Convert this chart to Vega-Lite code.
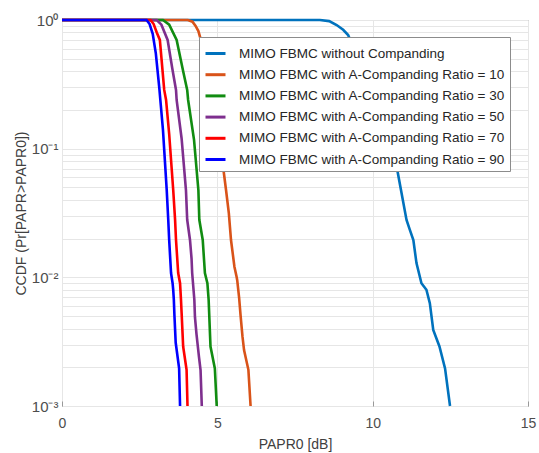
{
  "$schema": "https://vega.github.io/schema/vega-lite/v6.json",
  "width": 466,
  "height": 386,
  "autosize": {"type": "none"},
  "padding": {"left": 62, "top": 20, "right": 11, "bottom": 47},
  "background": "white",
  "config": {
    "font": "Liberation Sans",
    "view": {"stroke": "#8c8c8c", "strokeWidth": 1}
  },
  "data": {
    "values": [
      {"s": "MIMO FBMC without Companding", "x": 0, "y": 1},
      {"s": "MIMO FBMC without Companding", "x": 8.3, "y": 1},
      {"s": "MIMO FBMC without Companding", "x": 8.6, "y": 0.98},
      {"s": "MIMO FBMC without Companding", "x": 8.84, "y": 0.914},
      {"s": "MIMO FBMC without Companding", "x": 9.05, "y": 0.84},
      {"s": "MIMO FBMC without Companding", "x": 9.21, "y": 0.764},
      {"s": "MIMO FBMC without Companding", "x": 9.5, "y": 0.52},
      {"s": "MIMO FBMC without Companding", "x": 9.8, "y": 0.33},
      {"s": "MIMO FBMC without Companding", "x": 10.1, "y": 0.2},
      {"s": "MIMO FBMC without Companding", "x": 10.4, "y": 0.12},
      {"s": "MIMO FBMC without Companding", "x": 10.78, "y": 0.0708},
      {"s": "MIMO FBMC without Companding", "x": 11.09, "y": 0.0279},
      {"s": "MIMO FBMC without Companding", "x": 11.2, "y": 0.0233},
      {"s": "MIMO FBMC without Companding", "x": 11.31, "y": 0.0195},
      {"s": "MIMO FBMC without Companding", "x": 11.41, "y": 0.0129},
      {"s": "MIMO FBMC without Companding", "x": 11.57, "y": 0.009},
      {"s": "MIMO FBMC without Companding", "x": 11.73, "y": 0.008},
      {"s": "MIMO FBMC without Companding", "x": 11.84, "y": 0.0063},
      {"s": "MIMO FBMC without Companding", "x": 11.95, "y": 0.0039},
      {"s": "MIMO FBMC without Companding", "x": 12.15, "y": 0.0029},
      {"s": "MIMO FBMC without Companding", "x": 12.33, "y": 0.00196},
      {"s": "MIMO FBMC without Companding", "x": 12.49, "y": 0.001},

      {"s": "MIMO FBMC with A-Companding Ratio = 10", "x": 0, "y": 1},
      {"s": "MIMO FBMC with A-Companding Ratio = 10", "x": 4.05, "y": 1},
      {"s": "MIMO FBMC with A-Companding Ratio = 10", "x": 4.2, "y": 0.97},
      {"s": "MIMO FBMC with A-Companding Ratio = 10", "x": 4.3, "y": 0.9},
      {"s": "MIMO FBMC with A-Companding Ratio = 10", "x": 4.39, "y": 0.82},
      {"s": "MIMO FBMC with A-Companding Ratio = 10", "x": 4.55, "y": 0.6},
      {"s": "MIMO FBMC with A-Companding Ratio = 10", "x": 4.75, "y": 0.35},
      {"s": "MIMO FBMC with A-Companding Ratio = 10", "x": 4.95, "y": 0.18},
      {"s": "MIMO FBMC with A-Companding Ratio = 10", "x": 5.1, "y": 0.1},
      {"s": "MIMO FBMC with A-Companding Ratio = 10", "x": 5.19, "y": 0.0708},
      {"s": "MIMO FBMC with A-Companding Ratio = 10", "x": 5.28, "y": 0.0477},
      {"s": "MIMO FBMC with A-Companding Ratio = 10", "x": 5.37, "y": 0.0315},
      {"s": "MIMO FBMC with A-Companding Ratio = 10", "x": 5.44, "y": 0.0195},
      {"s": "MIMO FBMC with A-Companding Ratio = 10", "x": 5.55, "y": 0.0121},
      {"s": "MIMO FBMC with A-Companding Ratio = 10", "x": 5.62, "y": 0.0101},
      {"s": "MIMO FBMC with A-Companding Ratio = 10", "x": 5.64, "y": 0.0095},
      {"s": "MIMO FBMC with A-Companding Ratio = 10", "x": 5.7, "y": 0.007},
      {"s": "MIMO FBMC with A-Companding Ratio = 10", "x": 5.75, "y": 0.005},
      {"s": "MIMO FBMC with A-Companding Ratio = 10", "x": 5.81, "y": 0.00346},
      {"s": "MIMO FBMC with A-Companding Ratio = 10", "x": 5.86, "y": 0.00272},
      {"s": "MIMO FBMC with A-Companding Ratio = 10", "x": 6.0, "y": 0.00191},
      {"s": "MIMO FBMC with A-Companding Ratio = 10", "x": 6.07, "y": 0.001},

      {"s": "MIMO FBMC with A-Companding Ratio = 30", "x": 0, "y": 1},
      {"s": "MIMO FBMC with A-Companding Ratio = 30", "x": 3.25, "y": 1},
      {"s": "MIMO FBMC with A-Companding Ratio = 30", "x": 3.45, "y": 0.92},
      {"s": "MIMO FBMC with A-Companding Ratio = 30", "x": 3.69, "y": 0.7},
      {"s": "MIMO FBMC with A-Companding Ratio = 30", "x": 3.9, "y": 0.4},
      {"s": "MIMO FBMC with A-Companding Ratio = 30", "x": 4.03, "y": 0.286},
      {"s": "MIMO FBMC with A-Companding Ratio = 30", "x": 4.06, "y": 0.239},
      {"s": "MIMO FBMC with A-Companding Ratio = 30", "x": 4.25, "y": 0.117},
      {"s": "MIMO FBMC with A-Companding Ratio = 30", "x": 4.39, "y": 0.0477},
      {"s": "MIMO FBMC with A-Companding Ratio = 30", "x": 4.42, "y": 0.028},
      {"s": "MIMO FBMC with A-Companding Ratio = 30", "x": 4.53, "y": 0.0195},
      {"s": "MIMO FBMC with A-Companding Ratio = 30", "x": 4.6, "y": 0.0108},
      {"s": "MIMO FBMC with A-Companding Ratio = 30", "x": 4.68, "y": 0.009},
      {"s": "MIMO FBMC with A-Companding Ratio = 30", "x": 4.72, "y": 0.0067},
      {"s": "MIMO FBMC with A-Companding Ratio = 30", "x": 4.78, "y": 0.0029},
      {"s": "MIMO FBMC with A-Companding Ratio = 30", "x": 4.92, "y": 0.00196},
      {"s": "MIMO FBMC with A-Companding Ratio = 30", "x": 4.98, "y": 0.001},

      {"s": "MIMO FBMC with A-Companding Ratio = 50", "x": 0, "y": 1},
      {"s": "MIMO FBMC with A-Companding Ratio = 50", "x": 3.05, "y": 1},
      {"s": "MIMO FBMC with A-Companding Ratio = 50", "x": 3.2, "y": 0.92},
      {"s": "MIMO FBMC with A-Companding Ratio = 50", "x": 3.4, "y": 0.7},
      {"s": "MIMO FBMC with A-Companding Ratio = 50", "x": 3.55, "y": 0.42},
      {"s": "MIMO FBMC with A-Companding Ratio = 50", "x": 3.67, "y": 0.286},
      {"s": "MIMO FBMC with A-Companding Ratio = 50", "x": 3.69, "y": 0.239},
      {"s": "MIMO FBMC with A-Companding Ratio = 50", "x": 3.85, "y": 0.12},
      {"s": "MIMO FBMC with A-Companding Ratio = 50", "x": 3.99, "y": 0.0477},
      {"s": "MIMO FBMC with A-Companding Ratio = 50", "x": 4.03, "y": 0.028},
      {"s": "MIMO FBMC with A-Companding Ratio = 50", "x": 4.12, "y": 0.0195},
      {"s": "MIMO FBMC with A-Companding Ratio = 50", "x": 4.17, "y": 0.014},
      {"s": "MIMO FBMC with A-Companding Ratio = 50", "x": 4.19, "y": 0.0108},
      {"s": "MIMO FBMC with A-Companding Ratio = 50", "x": 4.26, "y": 0.0067},
      {"s": "MIMO FBMC with A-Companding Ratio = 50", "x": 4.28, "y": 0.0049},
      {"s": "MIMO FBMC with A-Companding Ratio = 50", "x": 4.33, "y": 0.0036},
      {"s": "MIMO FBMC with A-Companding Ratio = 50", "x": 4.41, "y": 0.0024},
      {"s": "MIMO FBMC with A-Companding Ratio = 50", "x": 4.46, "y": 0.0019},
      {"s": "MIMO FBMC with A-Companding Ratio = 50", "x": 4.5, "y": 0.001},

      {"s": "MIMO FBMC with A-Companding Ratio = 70", "x": 0, "y": 1},
      {"s": "MIMO FBMC with A-Companding Ratio = 70", "x": 2.85, "y": 1},
      {"s": "MIMO FBMC with A-Companding Ratio = 70", "x": 2.95, "y": 0.93},
      {"s": "MIMO FBMC with A-Companding Ratio = 70", "x": 3.05, "y": 0.8},
      {"s": "MIMO FBMC with A-Companding Ratio = 70", "x": 3.15, "y": 0.7},
      {"s": "MIMO FBMC with A-Companding Ratio = 70", "x": 3.29, "y": 0.286},
      {"s": "MIMO FBMC with A-Companding Ratio = 70", "x": 3.35, "y": 0.239},
      {"s": "MIMO FBMC with A-Companding Ratio = 70", "x": 3.45, "y": 0.13},
      {"s": "MIMO FBMC with A-Companding Ratio = 70", "x": 3.58, "y": 0.0477},
      {"s": "MIMO FBMC with A-Companding Ratio = 70", "x": 3.64, "y": 0.028},
      {"s": "MIMO FBMC with A-Companding Ratio = 70", "x": 3.67, "y": 0.0195},
      {"s": "MIMO FBMC with A-Companding Ratio = 70", "x": 3.74, "y": 0.0108},
      {"s": "MIMO FBMC with A-Companding Ratio = 70", "x": 3.8, "y": 0.009},
      {"s": "MIMO FBMC with A-Companding Ratio = 70", "x": 3.83, "y": 0.0067},
      {"s": "MIMO FBMC with A-Companding Ratio = 70", "x": 3.85, "y": 0.0053},
      {"s": "MIMO FBMC with A-Companding Ratio = 70", "x": 3.9, "y": 0.0029},
      {"s": "MIMO FBMC with A-Companding Ratio = 70", "x": 4.01, "y": 0.00191},
      {"s": "MIMO FBMC with A-Companding Ratio = 70", "x": 4.04, "y": 0.001},

      {"s": "MIMO FBMC with A-Companding Ratio = 90", "x": 0, "y": 1},
      {"s": "MIMO FBMC with A-Companding Ratio = 90", "x": 2.72, "y": 1},
      {"s": "MIMO FBMC with A-Companding Ratio = 90", "x": 2.82, "y": 0.93},
      {"s": "MIMO FBMC with A-Companding Ratio = 90", "x": 2.92, "y": 0.78},
      {"s": "MIMO FBMC with A-Companding Ratio = 90", "x": 3.02, "y": 0.55},
      {"s": "MIMO FBMC with A-Companding Ratio = 90", "x": 3.13, "y": 0.3},
      {"s": "MIMO FBMC with A-Companding Ratio = 90", "x": 3.25, "y": 0.14},
      {"s": "MIMO FBMC with A-Companding Ratio = 90", "x": 3.37, "y": 0.048},
      {"s": "MIMO FBMC with A-Companding Ratio = 90", "x": 3.42, "y": 0.028},
      {"s": "MIMO FBMC with A-Companding Ratio = 90", "x": 3.45, "y": 0.0195},
      {"s": "MIMO FBMC with A-Companding Ratio = 90", "x": 3.51, "y": 0.0108},
      {"s": "MIMO FBMC with A-Companding Ratio = 90", "x": 3.56, "y": 0.009},
      {"s": "MIMO FBMC with A-Companding Ratio = 90", "x": 3.58, "y": 0.008},
      {"s": "MIMO FBMC with A-Companding Ratio = 90", "x": 3.6, "y": 0.0067},
      {"s": "MIMO FBMC with A-Companding Ratio = 90", "x": 3.62, "y": 0.005},
      {"s": "MIMO FBMC with A-Companding Ratio = 90", "x": 3.66, "y": 0.0031},
      {"s": "MIMO FBMC with A-Companding Ratio = 90", "x": 3.77, "y": 0.00196},
      {"s": "MIMO FBMC with A-Companding Ratio = 90", "x": 3.8, "y": 0.001}
    ]
  },
  "mark": {"type": "line", "strokeWidth": 2.6, "clip": false},
  "encoding": {
    "x": {
      "field": "x",
      "type": "quantitative",
      "scale": {"domain": [0, 15], "nice": false, "zero": false},
      "axis": {
        "values": [0, 5, 10, 15],
        "title": "PAPR0 [dB]",
        "titleFontSize": 14,
        "titleFontWeight": "normal",
        "titleColor": "#404040",
        "titlePadding": 7,
        "labelFontSize": 14,
        "labelColor": "#4d4d4d",
        "labelPadding": 15,
        "domain": false,
        "tickSize": -5,
        "tickColor": "#999999",
        "gridColor": "#e6e6e6",
        "labelFlush": false
      }
    },
    "y": {
      "field": "y",
      "type": "quantitative",
      "scale": {"type": "log", "domain": [0.001, 1], "nice": false},
      "axis": {
        "values": [0.001, 0.002, 0.003, 0.004, 0.005, 0.006, 0.007, 0.008, 0.009, 0.01, 0.02, 0.03, 0.04, 0.05, 0.06, 0.07, 0.08, 0.09, 0.1, 0.2, 0.3, 0.4, 0.5, 0.6, 0.7, 0.8, 0.9, 1],
        "labelExpr": "datum.value > 0.99 ? '10⁰' : (datum.value > 0.099 && datum.value < 0.101) ? '10⁻¹' : (datum.value > 0.0099 && datum.value < 0.0101) ? '10⁻²' : (datum.value > 0.00099 && datum.value < 0.00101) ? '10⁻³' : ''",
        "labelOverlap": false,
        "labelFontSize": 15,
        "labelColor": "#4d4d4d",
        "labelPadding": 4,
        "title": "CCDF  (Pr[PAPR>PAPR0])",
        "titleFontSize": 14,
        "titleFontWeight": "normal",
        "titleColor": "#404040",
        "titlePadding": 3,
        "domain": false,
        "tickSize": 0,
        "gridColor": "#e6e6e6",
        "labelFlush": false
      }
    },
    "color": {
      "field": "s",
      "type": "nominal",
      "scale": {
        "domain": [
          "MIMO FBMC without Companding",
          "MIMO FBMC with A-Companding Ratio = 10",
          "MIMO FBMC with A-Companding Ratio = 30",
          "MIMO FBMC with A-Companding Ratio = 50",
          "MIMO FBMC with A-Companding Ratio = 70",
          "MIMO FBMC with A-Companding Ratio = 90"
        ],
        "range": ["#0072BD", "#D95319", "#118C11", "#7E2F8E", "#FF0000", "#0000FF"]
      },
      "legend": {
        "title": null,
        "orient": "none",
        "legendX": 137,
        "legendY": 17,
        "fillColor": "white",
        "strokeColor": "#8c8c8c",
        "padding": 5,
        "symbolType": "stroke",
        "symbolSize": 400,
        "symbolStrokeWidth": 3,
        "labelFontSize": 13.5,
        "labelColor": "#262626",
        "labelLimit": 400,
        "rowPadding": 3.2,
        "labelOffset": 12
      }
    }
  }
}
